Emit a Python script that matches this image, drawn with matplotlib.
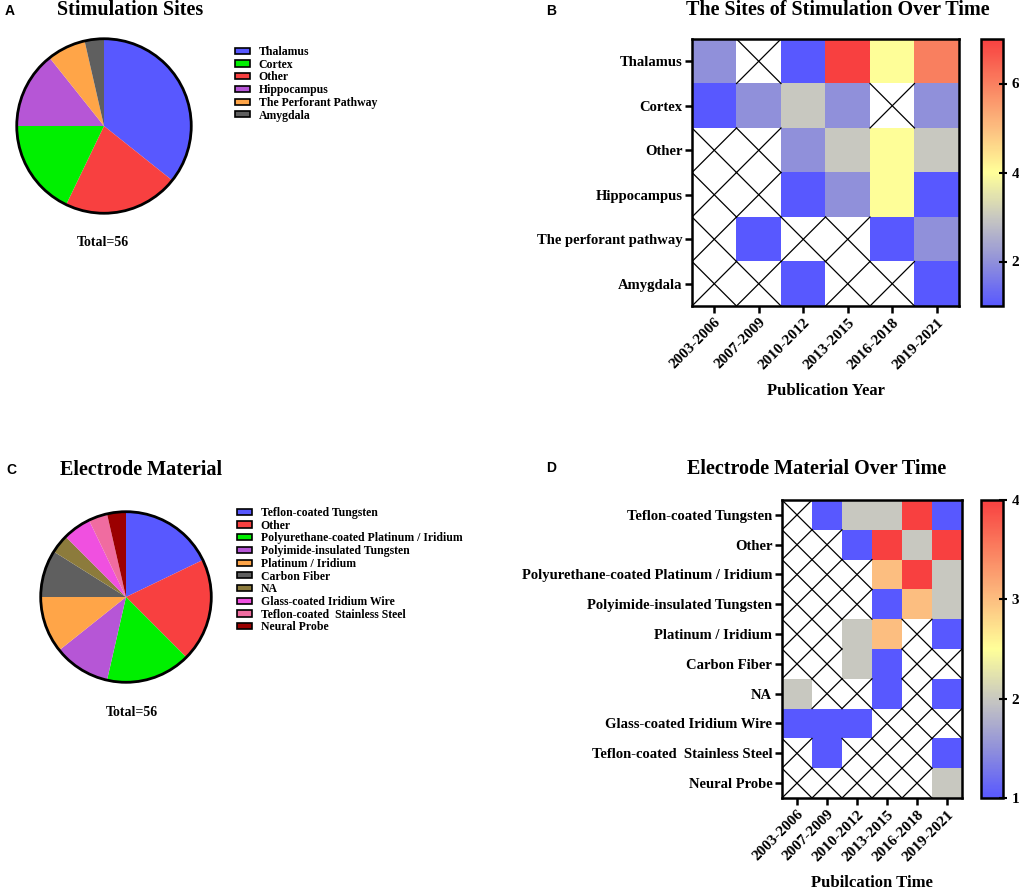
import numpy as np
import matplotlib
matplotlib.use('Agg')
import matplotlib.pyplot as plt
from matplotlib.colors import LinearSegmentedColormap
from matplotlib.patches import Patch, Circle

plt.rcParams['font.family'] = 'Liberation Serif'
plt.rcParams['font.weight'] = 'bold'

nan = np.nan
periods = ['2003-2006', '2007-2009', '2010-2012', '2013-2015', '2016-2018', '2019-2021']

# A: stimulation sites (legend order)
site_labels = ['Thalamus', 'Cortex', 'Other', 'Hippocampus', 'The Perforant Pathway', 'Amygdala']
site_counts = [20, 10, 12, 8, 4, 2]
site_colors = ['#5858FF', '#00F000', '#F84040', '#B656D6', '#FFA548', '#5F5F5F']
site_pie_order = [0, 2, 1, 3, 4, 5]  # clockwise order of slices

# B: sites over time (NaN = no study, crossed cell)
site_rows = ['Thalamus', 'Cortex', 'Other', 'Hippocampus', 'The perforant pathway', 'Amygdala']
site_matrix = [[2, nan, 1, 7, 4, 6],
               [1, 2, 3, 2, nan, 2],
               [nan, nan, 2, 3, 4, 3],
               [nan, nan, 1, 2, 4, 1],
               [nan, 1, nan, nan, 1, 2],
               [nan, nan, 1, nan, nan, 1]]

# C: electrode material
mat_labels = ['Teflon-coated Tungsten', 'Other', 'Polyurethane-coated Platinum / Iridium',
              'Polyimide-insulated Tungsten', 'Platinum / Iridium', 'Carbon Fiber', 'NA',
              'Glass-coated Iridium Wire', 'Teflon-coated  Stainless Steel', 'Neural Probe']
mat_counts = [10, 11, 9, 6, 6, 5, 2, 3, 2, 2]
mat_colors = ['#5858FF', '#F84040', '#00F000', '#B656D6', '#FFA548', '#5F5F5F',
              '#8C7B3C', '#F050E0', '#F06CA0', '#9B0000']

# D: material over time
mat_rows = ['Teflon-coated Tungsten', 'Other', 'Polyurethane-coated Platinum / Iridium',
            'Polyimide-insulated Tungsten', 'Platinum / Iridium', 'Carbon Fiber', 'NA',
            'Glass-coated Iridium Wire', 'Teflon-coated  Stainless Steel', 'Neural Probe']
mat_matrix = [[nan, 1, 2, 2, 4, 1],
              [nan, nan, 1, 4, 2, 4],
              [nan, nan, nan, 3, 4, 2],
              [nan, nan, nan, 1, 3, 2],
              [nan, nan, 2, 3, nan, 1],
              [nan, nan, 2, 1, nan, nan],
              [2, nan, nan, 1, nan, 1],
              [1, 1, 1, nan, nan, nan],
              [nan, 1, nan, nan, nan, 1],
              [nan, nan, nan, nan, nan, 2]]

cmap = LinearSegmentedColormap.from_list('gp', [
    (0.0, '#5858FF'), (1/6, '#9191DA'), (1/3, '#C8C8C0'), (0.5, '#FFFF99'),
    (2/3, '#FCBE80'), (5/6, '#FA8060'), (1.0, '#F84040')])

W, H = 1020, 889
fig = plt.figure(figsize=(W / 100, H / 100), dpi=100)


def box(x0, y0, x1, y1):
    return fig.add_axes([x0 / W, 1 - y1 / H, (x1 - x0) / W, (y1 - y0) / H])


def pie_panel(rect, counts, colors, order, labels, leg_xy):
    ax = box(*rect)
    ax.pie([counts[i] for i in order], colors=[colors[i] for i in order],
           startangle=90, counterclock=False, wedgeprops=dict(linewidth=0))
    ax.add_patch(Circle((0, 0), 1, fill=False, lw=2, color='black'))
    ax.set_xlim(-1.02, 1.02)
    ax.set_ylim(-1.02, 1.02)
    handles = [Patch(facecolor=c, edgecolor='black', lw=1.2) for c in colors]
    ax.legend(handles, labels, loc='upper left', bbox_to_anchor=(leg_xy[0] / W, 1 - leg_xy[1] / H),
              bbox_transform=fig.transFigure, frameon=False, fontsize=8.5,
              handlelength=1.3, handleheight=0.42, handletextpad=0.7,
              labelspacing=0.06, borderpad=0, borderaxespad=0)
    return ax


def heat_panel(rect, crect, matrix, rows, vmax, ticks, xlabel):
    ax = box(*rect)
    cax = box(*crect)
    data = np.array(matrix, dtype=float)
    nr, nc = data.shape
    im = ax.imshow(np.ma.masked_invalid(data), cmap=cmap, vmin=1, vmax=vmax,
                   aspect='auto', interpolation='nearest')
    for i, j in zip(*np.where(np.isnan(data))):
        ax.plot([j - 0.5, j + 0.5], [i - 0.5, i + 0.5], color='black', lw=0.9)
        ax.plot([j - 0.5, j + 0.5], [i + 0.5, i - 0.5], color='black', lw=0.9)
    ax.set_xlim(-0.5, nc - 0.5)
    ax.set_ylim(nr - 0.5, -0.5)
    ax.set_xticks(range(nc))
    ax.set_xticklabels(periods, rotation=45, ha='right', rotation_mode='anchor', fontsize=11)
    ax.set_yticks(range(nr))
    ax.set_yticklabels(rows, fontsize=10.5)
    ax.tick_params(length=5, width=1.8, pad=2)
    for s in ax.spines.values():
        s.set_linewidth(1.8)
    ax.set_xlabel(xlabel, fontsize=12, fontweight='bold', labelpad=8)
    cb = fig.colorbar(im, cax=cax, ticks=ticks)
    cb.outline.set_linewidth(1.8)
    cax.tick_params(direction='inout', length=6, width=1.5, labelsize=11, pad=3)
    return ax


# A
pie_panel((15, 37, 193, 215), site_counts, site_colors, site_pie_order, site_labels, (235, 46))
fig.text(10 / W, 1 - 11 / H, 'A', family='Liberation Sans', fontsize=10, va='center', ha='center')
fig.text(130 / W, 1 - 10 / H, 'Stimulation Sites', fontsize=14.5, va='center', ha='center')
fig.text(103 / W, 1 - 242 / H, 'Total=56', fontsize=10, va='center', ha='center')

# B
heat_panel((692, 39, 959, 306), (981, 39, 1003, 306), site_matrix, site_rows, 7, [2, 4, 6],
           'Publication Year')
fig.text(551 / W, 1 - 11 / H, 'B', family='Liberation Sans', fontsize=10, va='center', ha='center')
fig.text(838 / W, 1 - 10 / H, 'The Sites of Stimulation Over Time', fontsize=14.5, va='center', ha='center')

# C
pie_panel((39, 510, 213, 684), mat_counts, mat_colors, list(range(len(mat_counts))), mat_labels, (237, 507))
fig.text(11 / W, 1 - 470 / H, 'C', family='Liberation Sans', fontsize=10, va='center', ha='center')
fig.text(141 / W, 1 - 470 / H, 'Electrode Material', fontsize=14.5, va='center', ha='center')
fig.text(132 / W, 1 - 713 / H, 'Total=56', fontsize=10, va='center', ha='center')

# D
heat_panel((782, 500, 962, 798), (981, 500, 1003, 798), mat_matrix, mat_rows, 4, [1, 2, 3, 4],
           'Pubilcation Time')
fig.text(551 / W, 1 - 468 / H, 'D', family='Liberation Sans', fontsize=10, va='center', ha='center')
fig.text(817 / W, 1 - 469 / H, 'Electrode Material Over Time', fontsize=14.5, va='center', ha='center')

fig.savefig('out.png', dpi=100)
